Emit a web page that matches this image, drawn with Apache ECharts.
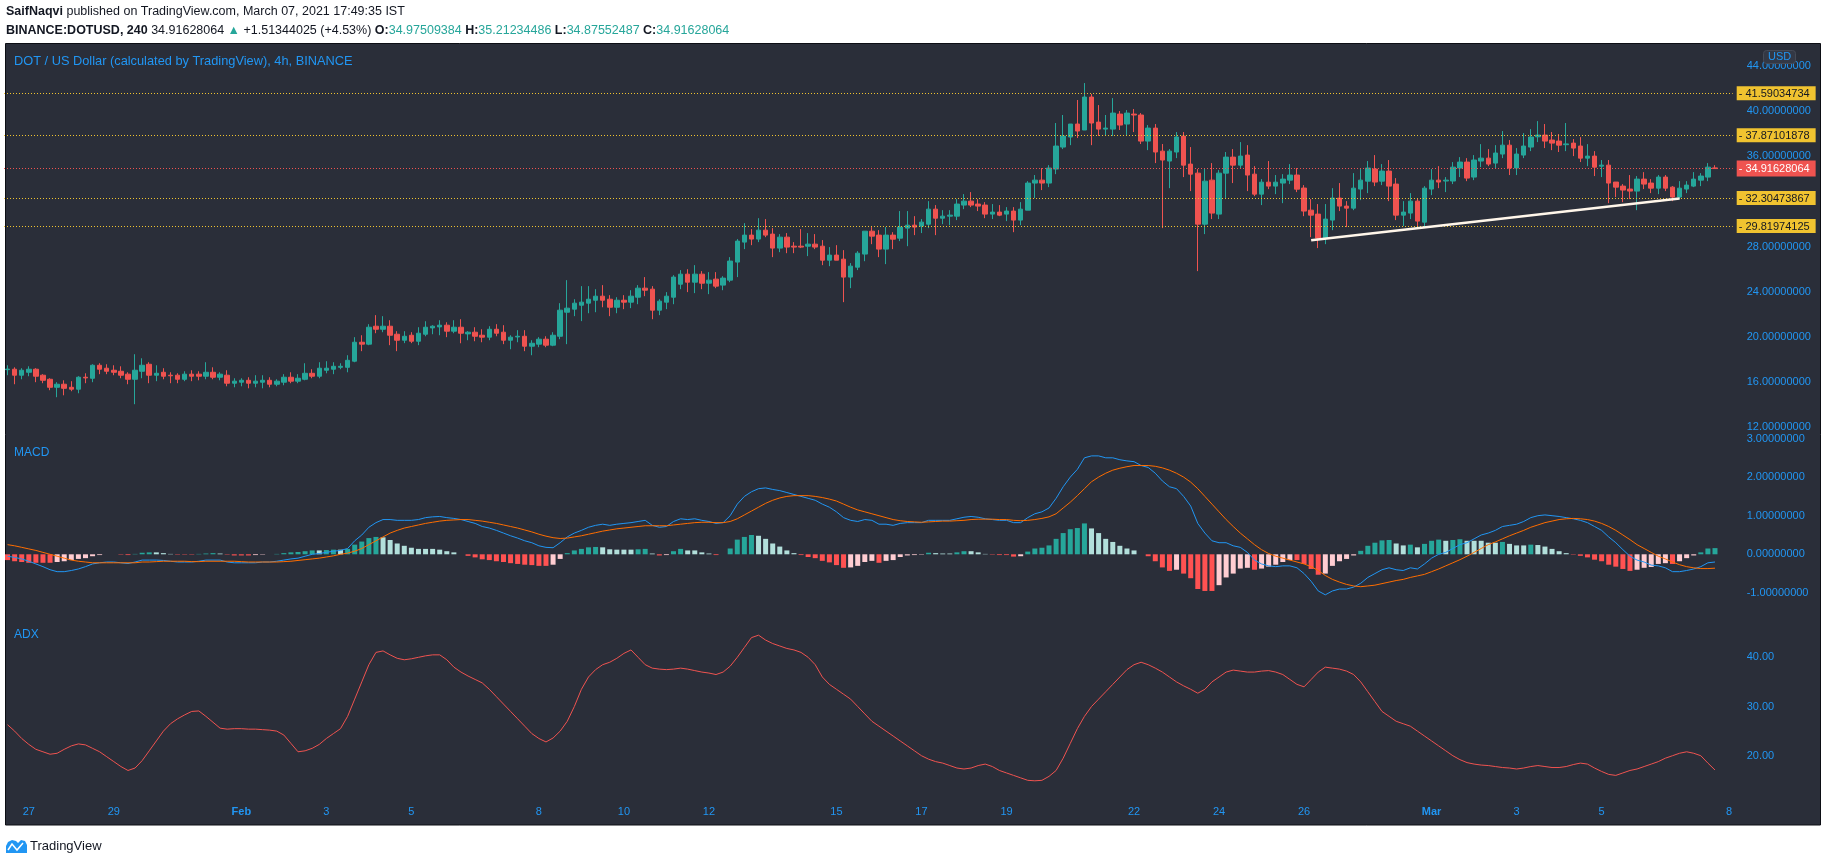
<!DOCTYPE html>
<html><head><meta charset="utf-8">
<script src="https://cdn.jsdelivr.net/npm/echarts@6/dist/echarts.min.js"></script>
<style>html,body{margin:0;padding:0;background:#fff;}#c{width:1828px;height:862px;}</style>
</head><body><div id="c"></div>
<script>
// ---------------- DATA ----------------
const chartTitle = 'DOT / US Dollar (calculated by TradingView), 4h, BINANCE';
const firstCandle = Date.UTC(2021, 0, 26, 12); // 4h candles
const categoryCount = 244;
const opens = [
17.10,17.14,16.61,16.87,17.14,16.61,16.25,15.54,15.81,15.54,
15.37,16.43,16.34,17.49,17.23,17.05,16.96,16.70,16.25,16.96,
17.58,16.61,16.87,16.61,16.61,16.25,16.70,16.70,16.52,16.87,
16.43,16.61,15.90,15.99,16.16,15.90,15.99,16.16,15.81,15.99,
16.43,16.08,16.25,16.78,16.52,17.05,17.14,17.31,17.31,17.85,
19.53,19.36,20.95,20.68,20.95,20.24,19.71,20.15,19.62,20.24,
20.80,20.89,21.04,20.51,20.86,20.27,20.42,20.15,19.98,20.68,
20.42,19.71,20.00,20.06,19.18,19.36,19.80,19.27,20.06,22.19,
22.46,22.81,22.99,23.25,23.61,23.34,22.63,23.25,23.08,23.52,
24.32,24.23,22.37,23.08,23.52,24.67,25.56,24.85,25.56,24.76,
25.12,24.59,25.03,26.63,28.40,29.02,28.67,29.46,29.11,27.87,
28.84,28.04,28.04,28.04,28.22,28.04,26.80,27.25,26.89,25.30,
26.18,27.34,29.37,29.02,27.78,29.02,28.75,29.64,29.90,29.82,
29.99,31.32,30.52,30.70,30.70,31.68,32.03,31.77,31.68,30.88,
31.06,30.88,31.15,30.35,31.23,33.63,33.89,33.63,34.87,36.82,
37.71,38.86,38.33,41.25,39.03,38.41,38.41,39.74,38.86,39.74,
39.66,37.35,38.50,36.46,35.58,36.38,37.79,35.31,34.51,29.99,
33.89,30.88,34.51,35.93,35.22,36.11,34.42,32.65,33.71,33.36,
33.63,33.89,34.34,33.19,31.23,30.88,28.75,30.35,32.30,31.59,
31.41,33.10,33.80,34.87,33.80,34.69,33.54,30.79,30.97,32.03,
30.17,33.10,33.89,33.81,33.81,34.96,35.49,34.16,35.58,35.84,
35.40,36.20,36.99,34.96,36.11,36.82,37.73,37.88,37.44,37.35,
37.03,37.17,36.91,35.84,36.02,35.13,35.22,33.72,33.36,33.10,
32.92,33.98,33.63,33.18,34.16,33.27,32.39,33.10,33.36,33.89,
34.16,34.97509384];
const highs = [
17.49,17.31,17.23,17.40,17.23,16.70,16.34,15.99,16.16,16.08,
16.52,16.78,17.58,17.67,17.58,17.49,17.40,16.87,18.47,18.11,
17.76,17.49,17.23,16.87,16.78,16.96,17.05,16.96,17.76,17.31,
16.87,17.05,16.34,16.34,16.43,16.61,16.61,16.43,16.25,16.70,
16.87,16.70,17.67,17.14,17.76,17.85,17.76,17.67,18.38,19.98,
20.15,21.13,21.93,21.84,21.48,20.51,20.51,20.42,20.86,21.39,
21.04,21.48,21.30,21.48,21.57,20.51,20.86,20.68,20.95,21.13,
21.04,20.15,20.60,20.60,19.71,19.98,20.06,20.42,22.99,25.03,
23.34,24.50,24.50,24.23,24.59,23.70,23.52,23.70,24.14,24.59,
25.30,24.50,23.34,23.97,25.47,25.92,26.00,26.36,25.83,25.74,
25.74,25.38,27.07,28.67,30.08,29.55,30.52,30.44,29.64,29.11,
29.20,28.40,29.55,29.20,29.11,28.58,27.96,28.13,27.69,26.54,
27.60,29.37,29.73,29.46,29.73,29.28,31.15,31.15,30.70,30.44,
32.03,31.68,31.23,31.23,32.21,32.65,32.83,32.21,31.94,31.77,
31.68,31.50,31.50,31.94,33.80,34.34,34.96,35.22,38.95,39.66,
38.86,40.99,42.49,41.52,40.54,39.66,41.16,40.01,40.10,40.19,
39.83,38.77,38.86,37.09,36.64,38.15,38.15,36.82,34.87,34.96,
35.40,34.78,36.38,36.64,37.26,36.99,35.13,33.98,35.58,34.34,
34.42,35.31,34.96,33.45,32.21,31.77,31.77,33.18,33.63,32.03,
34.51,34.87,35.58,36.11,35.31,35.67,34.07,32.03,32.74,32.30,
33.36,34.87,35.13,34.16,35.49,35.93,35.84,36.11,37.08,36.64,
36.99,38.24,37.44,36.73,38.06,38.41,39.12,38.86,38.15,37.97,
38.95,37.53,37.70,37.08,36.46,35.67,35.67,33.72,33.54,34.34,
34.25,34.60,33.98,34.34,34.34,33.36,33.80,33.80,34.60,34.51,
35.40,35.21234486];
const lows = [
16.61,15.81,16.25,16.52,15.99,15.90,15.28,14.66,14.83,15.19,
15.01,15.90,15.99,16.70,16.70,16.61,16.34,15.81,14.04,16.34,
15.90,16.08,16.25,15.90,15.90,16.08,16.08,16.16,16.25,16.25,
16.16,15.63,15.54,15.63,15.45,15.54,15.45,15.54,15.63,15.72,
15.90,15.90,16.16,16.34,16.34,16.78,16.70,17.14,16.87,17.76,
18.74,19.27,20.33,20.42,19.27,18.74,19.45,19.45,19.27,20.06,
20.24,20.15,19.98,20.33,19.44,19.71,19.62,19.53,19.71,20.06,
19.36,18.91,19.53,18.74,18.38,19.09,19.09,19.18,19.80,19.36,
21.84,21.40,22.10,22.19,22.63,21.84,22.10,22.46,22.55,22.90,
23.61,21.57,21.93,22.46,22.90,24.23,23.97,23.88,24.23,23.79,
24.32,24.14,24.85,25.30,27.78,28.13,28.40,28.84,27.07,27.51,
27.42,27.42,27.87,27.16,27.78,26.36,26.27,26.80,23.08,24.32,
25.92,26.71,28.22,27.07,26.45,27.78,28.49,28.04,29.02,29.20,
29.64,29.02,29.99,29.90,30.35,31.32,31.50,31.15,30.52,30.44,
30.70,30.26,29.28,29.90,31.23,32.30,33.01,33.27,34.42,36.64,
36.99,37.62,38.33,36.99,37.80,37.80,37.80,38.33,37.80,38.15,
37.09,36.55,35.40,29.64,33.18,35.84,34.16,32.92,25.83,29.11,
30.44,30.44,32.21,33.63,34.96,32.92,32.47,31.68,33.09,32.65,
31.85,33.54,32.83,30.70,28.84,27.87,28.22,29.46,31.15,29.73,
31.23,32.12,32.74,33.36,33.45,32.03,30.35,29.82,30.44,29.73,
29.73,32.56,33.18,32.83,33.54,34.16,33.80,33.89,35.04,35.13,
34.96,35.84,34.34,34.34,35.84,36.46,37.26,36.73,36.55,36.38,
36.46,36.02,35.49,35.13,34.25,34.16,31.85,32.39,31.94,32.21,
31.23,33.10,32.74,32.65,32.92,32.03,32.21,32.74,33.27,33.36,
33.80,34.87552487];
const closes = [
17.15,16.61,17.05,17.14,16.52,16.16,15.54,15.81,15.45,15.37,
16.43,16.37,17.49,17.14,16.96,16.87,16.61,16.25,17.05,17.49,
16.61,16.78,16.52,16.56,16.25,16.70,16.52,16.52,16.87,16.43,
16.70,15.90,16.08,16.16,15.90,16.08,16.16,15.81,16.08,16.43,
16.08,16.34,16.78,16.52,17.23,17.23,17.40,17.40,17.93,19.53,
19.36,20.86,20.68,20.95,20.15,19.71,20.06,19.62,20.33,20.86,
20.95,21.04,20.51,20.86,20.33,20.42,20.06,19.98,20.68,20.33,
19.71,19.98,20.06,19.18,19.44,19.80,19.27,20.15,22.37,22.55,
22.99,23.08,23.34,23.61,23.25,22.63,23.25,23.08,23.61,24.32,
24.14,22.37,23.17,23.61,25.30,25.56,24.85,25.56,24.76,25.03,
24.50,25.21,26.72,28.49,29.02,28.67,29.46,29.02,27.87,28.84,
27.96,27.96,27.96,28.22,27.96,26.80,27.25,26.80,25.30,26.27,
27.42,29.37,28.93,27.78,29.02,28.66,29.73,29.90,29.73,30.17,
31.32,30.52,30.70,30.79,31.77,32.03,31.68,31.59,30.88,31.06,
30.79,31.15,30.35,31.32,33.63,33.89,33.63,34.96,36.91,37.79,
38.86,38.24,41.25,38.95,38.41,38.50,39.83,38.77,39.83,39.66,
37.35,38.50,36.38,35.67,36.46,37.71,35.22,34.42,29.99,33.80,
30.97,34.51,35.93,35.22,36.02,34.34,32.65,33.71,33.36,33.71,
33.98,34.34,33.09,31.15,30.79,28.75,30.44,32.30,31.59,31.41,
33.18,33.89,34.96,33.72,34.69,33.36,30.79,31.06,32.03,30.26,
33.18,33.89,33.72,33.89,35.04,35.49,34.07,35.67,35.84,35.31,
36.29,36.99,34.96,36.20,36.91,37.71,37.88,37.35,37.17,36.99,
37.10,36.73,35.84,36.02,35.04,35.22,33.63,33.27,33.01,32.92,
33.98,33.54,33.18,34.16,33.18,32.39,33.18,33.45,33.98,34.25,
35.04,34.91628064];
const macdLine = [
-0.05,-0.08,-0.12,-0.18,-0.25,-0.32,-0.40,-0.45,-0.45,-0.42,
-0.38,-0.32,-0.25,-0.22,-0.20,-0.20,-0.22,-0.24,-0.20,-0.15,
-0.15,-0.15,-0.16,-0.18,-0.20,-0.20,-0.20,-0.18,-0.15,-0.15,
-0.15,-0.20,-0.22,-0.22,-0.22,-0.22,-0.20,-0.20,-0.18,-0.15,
-0.12,-0.10,-0.05,0.00,0.02,0.05,0.08,0.10,0.15,0.35,
0.50,0.70,0.82,0.90,0.90,0.88,0.88,0.88,0.90,0.95,
0.97,0.98,0.95,0.93,0.90,0.85,0.80,0.72,0.68,0.62,
0.55,0.48,0.42,0.35,0.30,0.22,0.18,0.17,0.30,0.45,
0.55,0.62,0.70,0.75,0.78,0.75,0.78,0.80,0.82,0.85,
0.88,0.75,0.70,0.72,0.85,0.92,0.90,0.92,0.88,0.85,
0.80,0.82,1.00,1.30,1.50,1.62,1.70,1.72,1.68,1.65,
1.60,1.55,1.50,1.45,1.40,1.30,1.22,1.10,0.95,0.88,
0.85,0.90,0.88,0.78,0.78,0.75,0.80,0.82,0.82,0.82,
0.88,0.88,0.88,0.88,0.92,0.96,0.98,0.96,0.92,0.90,
0.88,0.88,0.82,0.82,0.95,1.05,1.10,1.20,1.45,1.75,
2.00,2.20,2.50,2.55,2.55,2.50,2.50,2.45,2.42,2.40,
2.30,2.25,2.10,1.90,1.75,1.70,1.50,1.25,0.80,0.55,
0.35,0.30,0.30,0.22,0.18,0.05,-0.15,-0.25,-0.30,-0.32,
-0.30,-0.30,-0.35,-0.50,-0.70,-0.95,-1.05,-0.95,-0.90,-0.90,
-0.85,-0.75,-0.60,-0.50,-0.40,-0.35,-0.40,-0.42,-0.35,-0.38,
-0.25,-0.10,0.00,0.05,0.15,0.25,0.30,0.40,0.50,0.55,
0.62,0.72,0.75,0.78,0.85,0.95,1.00,1.02,1.00,0.98,
0.95,0.92,0.88,0.82,0.72,0.62,0.45,0.30,0.12,-0.05,
-0.15,-0.20,-0.28,-0.30,-0.35,-0.45,-0.45,-0.42,-0.38,-0.32,
-0.22,-0.20];
const signalLine = [
0.25,0.22,0.18,0.14,0.10,0.05,0.00,-0.05,-0.10,-0.15,
-0.18,-0.20,-0.22,-0.22,-0.22,-0.22,-0.22,-0.22,-0.22,-0.20,
-0.20,-0.19,-0.18,-0.18,-0.18,-0.18,-0.19,-0.19,-0.18,-0.18,
-0.18,-0.18,-0.18,-0.19,-0.20,-0.20,-0.20,-0.20,-0.20,-0.19,
-0.18,-0.16,-0.14,-0.12,-0.10,-0.07,-0.04,0.00,0.03,0.08,
0.15,0.25,0.35,0.45,0.55,0.62,0.68,0.72,0.76,0.80,
0.83,0.86,0.88,0.89,0.90,0.90,0.88,0.86,0.83,0.80,
0.76,0.72,0.68,0.63,0.58,0.52,0.47,0.43,0.41,0.42,
0.45,0.48,0.52,0.56,0.60,0.63,0.66,0.68,0.70,0.72,
0.74,0.74,0.74,0.74,0.76,0.78,0.80,0.82,0.83,0.83,
0.82,0.82,0.85,0.92,1.02,1.12,1.22,1.32,1.40,1.46,
1.50,1.52,1.52,1.52,1.50,1.47,1.43,1.38,1.30,1.22,
1.15,1.10,1.05,1.00,0.95,0.90,0.87,0.85,0.84,0.83,
0.84,0.85,0.86,0.86,0.87,0.88,0.90,0.91,0.91,0.91,
0.90,0.90,0.88,0.87,0.88,0.90,0.93,0.97,1.05,1.20,
1.35,1.52,1.70,1.88,2.00,2.10,2.18,2.23,2.27,2.30,
2.30,2.30,2.28,2.24,2.18,2.10,2.00,1.87,1.70,1.50,
1.30,1.10,0.90,0.72,0.55,0.40,0.25,0.12,0.02,-0.05,
-0.10,-0.15,-0.20,-0.25,-0.32,-0.42,-0.55,-0.65,-0.72,-0.78,
-0.82,-0.84,-0.82,-0.80,-0.76,-0.72,-0.68,-0.65,-0.60,-0.56,
-0.52,-0.45,-0.38,-0.30,-0.22,-0.14,-0.05,0.05,0.15,0.25,
0.32,0.40,0.48,0.55,0.62,0.70,0.76,0.82,0.86,0.90,
0.92,0.93,0.92,0.90,0.86,0.80,0.72,0.62,0.50,0.38,
0.25,0.15,0.05,-0.05,-0.12,-0.20,-0.27,-0.32,-0.35,-0.37,
-0.37,-0.36];
const macdHist = [
-0.15,-0.18,-0.20,-0.22,-0.22,-0.22,-0.22,-0.20,-0.18,-0.15,
-0.12,-0.10,-0.05,-0.02,0.00,0.00,-0.01,-0.02,0.01,0.04,
0.05,0.05,0.03,0.01,-0.01,-0.01,-0.01,0.01,0.02,0.03,
0.02,-0.01,-0.03,-0.03,-0.03,-0.02,-0.01,0.00,0.01,0.03,
0.05,0.06,0.08,0.10,0.10,0.11,0.12,0.12,0.14,0.25,
0.33,0.42,0.45,0.44,0.37,0.28,0.22,0.17,0.14,0.14,
0.14,0.12,0.08,0.05,0.00,-0.04,-0.08,-0.13,-0.15,-0.18,
-0.20,-0.23,-0.25,-0.27,-0.28,-0.30,-0.30,-0.27,-0.12,0.03,
0.10,0.14,0.18,0.19,0.18,0.13,0.12,0.12,0.12,0.13,
0.14,0.02,-0.03,-0.02,0.08,0.14,0.10,0.10,0.05,0.02,
-0.02,0.00,0.15,0.38,0.45,0.50,0.48,0.40,0.28,0.20,
0.10,0.03,-0.02,-0.07,-0.10,-0.17,-0.21,-0.28,-0.35,-0.34,
-0.30,-0.20,-0.17,-0.22,-0.17,-0.15,-0.07,-0.03,-0.02,-0.01,
0.04,0.03,0.02,0.02,0.05,0.08,0.08,0.05,0.01,-0.01,
-0.02,-0.02,-0.06,-0.05,0.07,0.15,0.17,0.23,0.40,0.55,
0.65,0.68,0.80,0.67,0.55,0.40,0.32,0.22,0.15,0.10,
0.00,-0.05,-0.18,-0.34,-0.43,-0.40,-0.50,-0.62,-0.90,-0.95,
-0.95,-0.80,-0.60,-0.50,-0.37,-0.35,-0.40,-0.37,-0.32,-0.27,
-0.20,-0.15,-0.15,-0.25,-0.38,-0.53,-0.50,-0.30,-0.18,-0.12,
-0.03,0.09,0.22,0.30,0.36,0.37,0.28,0.23,0.25,0.18,
0.27,0.35,0.38,0.35,0.37,0.39,0.35,0.35,0.35,0.30,
0.30,0.32,0.27,0.23,0.23,0.25,0.24,0.20,0.14,0.08,
0.03,-0.01,-0.04,-0.08,-0.14,-0.18,-0.27,-0.32,-0.38,-0.43,
-0.40,-0.35,-0.33,-0.25,-0.23,-0.25,-0.18,-0.10,-0.03,0.05,
0.15,0.16];
const adxLine = [
26.3,25.0,23.5,22.3,21.3,20.8,20.3,20.5,21.3,22.0,
22.4,22.2,21.5,20.8,19.8,18.8,17.8,17.0,17.5,19.0,
21.0,23.0,25.0,26.5,27.5,28.3,29.0,29.1,28.0,26.8,
25.6,25.4,25.5,25.5,25.4,25.4,25.3,25.2,25.0,24.2,
22.5,20.8,21.0,21.5,22.3,23.5,24.5,25.5,28.0,31.5,
35.0,38.5,41.0,41.3,40.5,39.8,39.5,39.7,40.0,40.3,
40.5,40.5,39.5,38.0,37.0,36.2,35.5,34.8,33.5,32.0,
30.5,29.0,27.5,26.0,24.5,23.5,22.8,23.6,25.0,27.0,
30.0,33.5,36.0,37.5,38.5,39.0,39.8,40.8,41.5,40.0,
38.5,37.8,37.6,37.5,37.6,37.8,37.6,37.3,37.0,36.8,
36.5,37.0,38.2,40.0,42.0,44.0,44.5,43.5,42.8,42.3,
41.8,41.5,41.0,40.0,38.5,36.0,34.5,33.5,32.5,31.5,
30.0,28.5,27.0,26.0,25.0,24.0,23.0,22.0,21.0,20.0,
19.3,18.8,18.5,18.0,17.5,17.3,17.5,18.0,18.3,17.8,
17.0,16.5,16.0,15.5,15.0,14.9,15.0,15.8,17.0,19.5,
22.5,25.5,28.0,30.0,31.5,33.0,34.5,36.0,37.5,38.5,
39.0,38.5,37.8,37.0,36.0,35.0,34.2,33.5,32.7,33.5,
35.0,36.0,37.0,37.4,37.2,37.0,37.0,37.2,37.3,37.0,
36.5,35.5,34.5,34.0,35.5,37.0,38.0,37.8,37.6,37.2,
36.5,35.0,33.0,31.0,29.0,28.0,27.0,26.5,26.0,25.0,
24.0,23.0,22.0,21.0,20.0,19.2,18.6,18.3,18.1,18.0,
17.8,17.6,17.5,17.3,17.5,17.8,18.0,17.8,17.6,17.6,
17.8,18.2,18.5,18.3,17.5,16.8,16.2,16.0,16.5,17.0,
17.3,17.8,18.3,18.8,19.5,20.0,20.5,20.8,20.5,20.0,
18.5,17.1];
const yellowLevels = [41.59034734, 37.87101878, 32.30473867, 29.81974125];
const lastPrice = 34.91628064;
const trendPoints = [[184, 28.57], [236, 32.27]];
const priceTicks = [12, 16, 20, 24, 28, 32, 36, 40, 44];
const macdTicks = [-1, 0, 1, 2, 3];
const adxTicks = [20, 30, 40];
const dayTickLabels = {
  '2021-01-27':'27','2021-01-29':'29','2021-02-01':'Feb','2021-02-03':'3','2021-02-05':'5',
  '2021-02-08':'8','2021-02-10':'10','2021-02-12':'12','2021-02-15':'15','2021-02-17':'17',
  '2021-02-19':'19','2021-02-22':'22','2021-02-24':'24','2021-02-26':'26','2021-03-01':'Mar',
  '2021-03-03':'3','2021-03-05':'5','2021-03-08':'8'};
const headerLine1 = ['SaifNaqvi', ' published on TradingView.com, March 07, 2021 17:49:35 IST'];
const headerLine2 = {symbol:'BINANCE:DOTUSD, 240', last:'34.91628064', change:'+1.51344025 (+4.53%)',
  O:'34.97509384', H:'35.21234486', L:'34.87552487', C:'34.91628064'};

// ---------------- CHART ----------------
const FF = "'Liberation Sans', Arial, sans-serif";
const BLUE = '#2196f3', UP = '#26a69a', DN = '#ef5350', YEL = '#f0c330', BG = '#2a2e39';
const cats = [];
for (let i = 0; i < categoryCount; i++) cats.push(new Date(firstCandle + i * 4 * 3600e3).toISOString().slice(0, 13));

const chart = echarts.init(document.getElementById('c'));
const gridL = 4, gridW = 1728.7, gridR = 1828 - gridL - gridW;
const grids = [
  {left: gridL, right: gridR, top: 44, height: 389},
  {left: gridL, right: gridR, top: 434, height: 181},
  {left: gridL, right: gridR, top: 615, height: 182}
];
function xAx(idx, showLabels) {
  return {type: 'category', gridIndex: idx, data: cats, boundaryGap: true,
    axisLine: {show: false}, axisTick: {show: false}, splitLine: {show: false},
    axisLabel: showLabels ? {
      show: true, color: BLUE, fontSize: 11, fontFamily: FF, margin: 9,
      interval: (i, v) => v.slice(11, 13) === '00' && dayTickLabels[v.slice(0, 10)] !== undefined,
      formatter: v => { const l = dayTickLabels[v.slice(0, 10)]; return (l === 'Feb' || l === 'Mar') ? '{b|' + l + '}' : l; },
      rich: {b: {fontWeight: 'bold', color: BLUE, fontSize: 11, fontFamily: FF}}
    } : {show: false}};
}
function yAx(idx, min, max, ticks, dec) {
  return {type: 'value', gridIndex: idx, position: 'right', min, max, scale: true,
    axisLine: {show: false}, axisTick: {show: false}, splitLine: {show: false},
    axisLabel: {show: true, customValues: ticks, color: BLUE, fontSize: 11, fontFamily: FF, margin: 14,
      formatter: v => Number(v).toFixed(dec)}};
}
function levelLine(v, color, textColor, pad) {
  return {yAxis: v, lineStyle: {color, type: [1, 2], width: 1},
    label: {show: true, position: 'end', distance: 4, formatter: '{d|-} ' + v.toFixed(8),
      color: textColor, backgroundColor: color, padding: pad, fontSize: 11, fontFamily: FF,
      rich: {d: {color: textColor, fontSize: 11, fontFamily: FF}}}};
}
const histColors = macdHist.map((v, i) => {
  const p = i > 0 ? macdHist[i - 1] : v;
  if (v >= 0) return p < v ? '#26a69a' : '#b2dfdb';
  return p < v ? '#ffcdd2' : '#ff5252';
});

const option = {
  animation: false,
  backgroundColor: '#ffffff',
  grid: grids,
  xAxis: [xAx(0, false), xAx(1, false), xAx(2, true)],
  yAxis: [yAx(0, 11.49, 45.95, priceTicks, 8), yAx(1, -1.573, 3.117, macdTicks, 8), yAx(2, 11.61, 48.6, adxTicks, 2)],
  series: [
    {type: 'candlestick', xAxisIndex: 0, yAxisIndex: 0, barWidth: 5,
      data: opens.map((o, i) => [o, closes[i], lows[i], highs[i]]),
      itemStyle: {color: UP, color0: DN, borderColor: UP, borderColor0: DN, borderWidth: 1},
      markLine: {symbol: ['none', 'none'], silent: true, animation: false, precision: 8,
        data: yellowLevels.map(v => levelLine(v, YEL, '#131722', [2, 6, 1, 2]))
          .concat([levelLine(lastPrice, DN, '#ffffff', [3, 6, 2, 2])])}},
    {type: 'line', xAxisIndex: 0, yAxisIndex: 0, data: trendPoints, symbol: 'none',
      lineStyle: {color: '#fff6ea', width: 2.5}, z: 5},
    {type: 'bar', xAxisIndex: 1, yAxisIndex: 1, barWidth: 5,
      data: macdHist.map((v, i) => ({value: v, itemStyle: {color: histColors[i]}}))},
    {type: 'line', xAxisIndex: 1, yAxisIndex: 1, data: macdLine, symbol: 'none', lineStyle: {color: BLUE, width: 1}},
    {type: 'line', xAxisIndex: 1, yAxisIndex: 1, data: signalLine, symbol: 'none', lineStyle: {color: '#ff6d00', width: 1}},
    {type: 'line', xAxisIndex: 2, yAxisIndex: 2, data: adxLine, symbol: 'none', lineStyle: {color: DN, width: 1}}
  ],
  graphic: {elements: [
    {type: 'rect', z: -10, silent: true, shape: {x: 5.5, y: 43.5, width: 1815, height: 781.5},
      style: {fill: BG, stroke: '#0c0e14', lineWidth: 1}},
    {type: 'text', x: 6, y: 5, silent: true, style: {
      text: '{b|' + headerLine1[0] + '}' + headerLine1[1], font: '12.5px ' + FF, fill: '#131722',
      rich: {b: {font: 'bold 12.5px ' + FF, fill: '#131722'}}}},
    {type: 'text', x: 6, y: 24, silent: true, style: {
      text: '{b|' + headerLine2.symbol + '} ' + headerLine2.last + ' {g|▲} ' + headerLine2.change +
        ' {b|O:}{g|' + headerLine2.O + '} {b|H:}{g|' + headerLine2.H + '} {b|L:}{g|' + headerLine2.L + '} {b|C:}{g|' + headerLine2.C + '}',
      font: '12.5px ' + FF, fill: '#131722',
      rich: {b: {font: 'bold 12.5px ' + FF, fill: '#131722'}, g: {font: '12.5px ' + FF, fill: UP}}}},
    {type: 'text', x: 14, y: 55, silent: true, style: {text: chartTitle, font: '12.8px ' + FF, fill: BLUE}},
    {type: 'text', x: 14, y: 447, silent: true, style: {text: 'MACD', font: '12px ' + FF, fill: BLUE}},
    {type: 'text', x: 14, y: 629, silent: true, style: {text: 'ADX', font: '12px ' + FF, fill: BLUE}},
    {type: 'rect', silent: true, z: 10, shape: {x: 1763.5, y: 50.5, width: 32, height: 13, r: 3},
      style: {fill: '#333845', stroke: '#454a56', lineWidth: 1}},
    {type: 'text', silent: true, z: 11, x: 1768, y: 51, style: {text: 'USD', font: '11px ' + FF, fill: BLUE}},
    {type: 'polygon', silent: true, shape: {points: [[6,853],[6,846],[8,842],[12,840],[16,841],[18,843],[21,840],[25,841],[27,845],[27,853]]},
      style: {fill: '#2196f3'}},
    {type: 'polyline', silent: true, shape: {points: [[8, 850], [12, 844], [17, 850], [23, 843]]},
      style: {stroke: '#ffffff', lineWidth: 1.5, fill: null}},
    {type: 'text', x: 30, y: 840, silent: true, style: {text: 'TradingView', font: '13px ' + FF, fill: '#131722'}}
  ]}
};
chart.setOption(option);
</script>
</body></html>
